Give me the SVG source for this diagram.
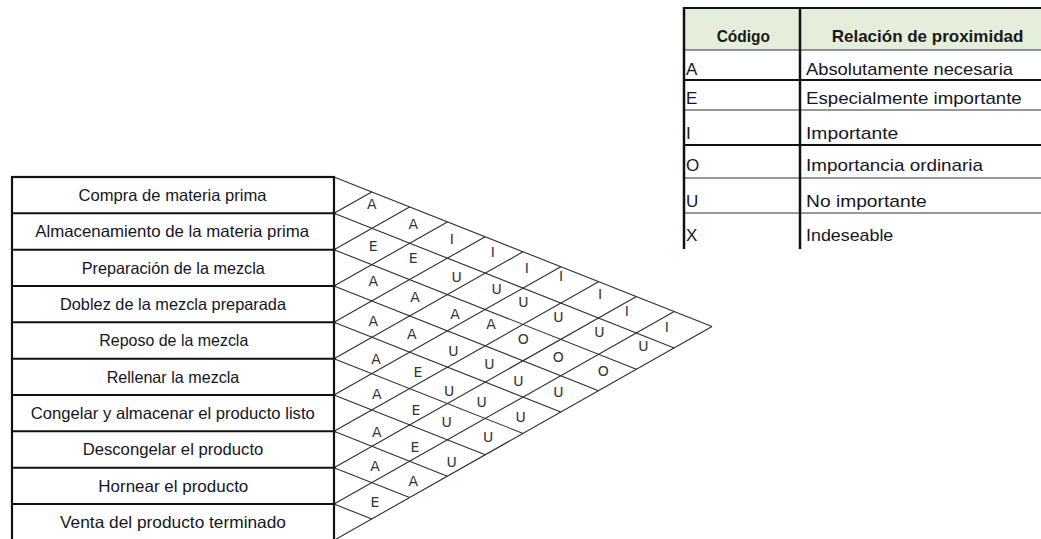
<svg xmlns="http://www.w3.org/2000/svg" width="1041" height="539" viewBox="0 0 1041 539">
<style>
.lbl{font-family:"Liberation Sans",Arial,sans-serif;font-size:16.5px;fill:#15151f;text-anchor:middle}
.sep{stroke:#111;stroke-width:2}
.grid{stroke:#2e2e2e;stroke-width:1.1;fill:none}
.r{font-family:"DejaVu Sans","Liberation Sans",sans-serif;font-size:14px;fill:#333;text-anchor:middle}
.t{font-family:"Liberation Sans",Arial,sans-serif;font-size:17px;fill:#15151f}
.h{font-family:"Liberation Sans",Arial,sans-serif;font-size:17px;font-weight:bold;fill:#1a1a1a}
</style>
<rect width="1041" height="539" fill="#fff"/>

<!-- Activities list -->
<g id="activities">
  <rect x="12" y="177" width="322" height="364" fill="#fff" stroke="#111" stroke-width="2.2"/>
  <line class="sep" x1="12" y1="213.3" x2="336" y2="213.3"/>
  <line class="sep" x1="12" y1="249.7" x2="336" y2="249.7"/>
  <line class="sep" x1="12" y1="286" x2="336" y2="286"/>
  <line class="sep" x1="12" y1="322.3" x2="336" y2="322.3"/>
  <line class="sep" x1="12" y1="358.7" x2="336" y2="358.7"/>
  <line class="sep" x1="12" y1="395" x2="336" y2="395"/>
  <line class="sep" x1="12" y1="431.3" x2="336" y2="431.3"/>
  <line class="sep" x1="12" y1="467.7" x2="336" y2="467.7"/>
  <line class="sep" x1="12" y1="504" x2="336" y2="504"/>
  <g id="act1"><text class="lbl" x="172.5" y="200.8" textLength="188" lengthAdjust="spacingAndGlyphs">Compra de materia prima</text></g>
  <g id="act2"><text class="lbl" x="172.2" y="237.1" textLength="274" lengthAdjust="spacingAndGlyphs">Almacenamiento de la materia prima</text></g>
  <g id="act3"><text class="lbl" x="173.3" y="273.5" textLength="183" lengthAdjust="spacingAndGlyphs">Preparación de la mezcla</text></g>
  <g id="act4"><text class="lbl" x="173" y="309.8" textLength="226" lengthAdjust="spacingAndGlyphs">Doblez de la mezcla preparada</text></g>
  <g id="act5"><text class="lbl" x="173.8" y="346.2" textLength="149" lengthAdjust="spacingAndGlyphs">Reposo de la mezcla</text></g>
  <g id="act6"><text class="lbl" x="173" y="382.5" textLength="132.7" lengthAdjust="spacingAndGlyphs">Rellenar la mezcla</text></g>
  <g id="act7"><text class="lbl" x="172.8" y="418.8" textLength="284" lengthAdjust="spacingAndGlyphs">Congelar y almacenar el producto listo</text></g>
  <g id="act8"><text class="lbl" x="173" y="455.2" textLength="180.7" lengthAdjust="spacingAndGlyphs">Descongelar el producto</text></g>
  <g id="act9"><text class="lbl" x="173.3" y="491.5" textLength="150" lengthAdjust="spacingAndGlyphs">Hornear el producto</text></g>
  <g id="act10"><text class="lbl" x="173" y="527.8" textLength="226" lengthAdjust="spacingAndGlyphs">Venta del producto terminado</text></g>
</g>

<!-- Relationship matrix grid -->
<g id="connectors">
  <path class="grid" d="M334,177 L712,326.5 M334,213.3 L674.2,347.9 M334,249.7 L636.4,369.3 M334,286 L598.6,390.7 M334,322.3 L560.8,412 M334,358.7 L523,433.4 M334,395 L485.2,454.8 M334,431.3 L447.4,476.2 M334,467.7 L409.6,497.6 M334,504 L371.8,519"/>
  <path class="grid" d="M334,213.3 L371.8,192 M334,249.7 L409.6,206.9 M334,286 L447.4,221.9 M334,322.3 L485.2,236.8 M334,358.7 L523,251.8 M334,395 L560.8,266.7 M334,431.3 L598.6,281.7 M334,467.7 L636.4,296.6 M334,504 L674.2,311.6 M334,540.3 L712,326.5"/>
</g>

<!-- Ratings -->
<g id="ratings">
  <text class="r" x="371.7" y="208.5">A</text>
  <text class="r" x="413.3" y="228.5">A</text>
  <text class="r" x="451.7" y="243.5">I</text>
  <text class="r" x="492.7" y="256.5">I</text>
  <text class="r" x="526.7" y="272.5">I</text>
  <text class="r" x="561" y="280.5">I</text>
  <text class="r" x="600" y="298.5">I</text>
  <text class="r" x="626.7" y="315.5">I</text>
  <text class="r" x="666.7" y="331.5">I</text>

  <text class="r" x="373.3" y="250.5">E</text>
  <text class="r" x="413.3" y="262.5">E</text>
  <text class="r" x="456.7" y="281.5">U</text>
  <text class="r" x="496.7" y="293.5">U</text>
  <text class="r" x="523.3" y="306.5">U</text>
  <text class="r" x="558.3" y="321.5">U</text>
  <text class="r" x="599.3" y="336.5">U</text>
  <text class="r" x="643.3" y="350.5">U</text>

  <text class="r" x="373.3" y="285.5">A</text>
  <text class="r" x="415" y="301.5">A</text>
  <text class="r" x="455" y="318.5">A</text>
  <text class="r" x="491" y="328.5">A</text>
  <text class="r" x="523.3" y="343.5">O</text>
  <text class="r" x="558.3" y="361.5">O</text>
  <text class="r" x="603.3" y="375.5">O</text>

  <text class="r" x="373.3" y="325.5">A</text>
  <text class="r" x="411.7" y="338.5">A</text>
  <text class="r" x="453.3" y="355.5">U</text>
  <text class="r" x="489.3" y="368.5">U</text>
  <text class="r" x="518.3" y="385.5">U</text>
  <text class="r" x="558.3" y="396.5">U</text>

  <text class="r" x="376" y="363.5">A</text>
  <text class="r" x="418" y="376.5">E</text>
  <text class="r" x="449" y="395.5">U</text>
  <text class="r" x="481.7" y="406.5">U</text>
  <text class="r" x="520.7" y="421.5">U</text>

  <text class="r" x="376.7" y="398.5">A</text>
  <text class="r" x="416" y="414.5">E</text>
  <text class="r" x="446.7" y="426.5">U</text>
  <text class="r" x="488" y="441.5">U</text>

  <text class="r" x="376.7" y="436.5">A</text>
  <text class="r" x="415" y="451.5">E</text>
  <text class="r" x="451.7" y="466.5">U</text>

  <text class="r" x="375" y="470.5">A</text>
  <text class="r" x="413.3" y="485.5">A</text>

  <text class="r" x="375" y="506.5">E</text>
</g>

<!-- Legend table -->
<g id="legend">
  <rect x="684" y="8" width="357" height="42" fill="#e4eedb"/>
  <line x1="683" y1="8" x2="1041" y2="8" stroke="#111" stroke-width="2"/>
  <line x1="684" y1="50" x2="1041" y2="50" stroke="#333" stroke-width="1"/>
  <line x1="684" y1="80" x2="1041" y2="80" stroke="#111" stroke-width="2"/>
  <line x1="684" y1="110" x2="1041" y2="110" stroke="#333" stroke-width="1"/>
  <line x1="684" y1="145" x2="1041" y2="145" stroke="#111" stroke-width="2"/>
  <line x1="684" y1="178" x2="1041" y2="178" stroke="#333" stroke-width="1"/>
  <line x1="684" y1="213" x2="1041" y2="213" stroke="#333" stroke-width="1"/>
  <line x1="684" y1="7" x2="684" y2="249" stroke="#111" stroke-width="2.5"/>
  <line x1="800" y1="7" x2="800" y2="249" stroke="#111" stroke-width="2.5"/>
  <g id="legend-header">
    <text class="h" x="743.3" y="41.5" text-anchor="middle" textLength="53.3" lengthAdjust="spacingAndGlyphs">Código</text>
    <text class="h" x="831.7" y="41.5" textLength="191.7" lengthAdjust="spacingAndGlyphs">Relación de proximidad</text>
  </g>
  <g id="legend-A"><text class="t" x="686" y="75">A</text><text class="t" x="806" y="75" textLength="207" lengthAdjust="spacingAndGlyphs">Absolutamente necesaria</text></g>
  <g id="legend-E"><text class="t" x="686" y="104">E</text><text class="t" x="806" y="104" textLength="215.7" lengthAdjust="spacingAndGlyphs">Especialmente importante</text></g>
  <g id="legend-I"><text class="t" x="686" y="139.3">I</text><text class="t" x="806" y="139.3" textLength="92.3" lengthAdjust="spacingAndGlyphs">Importante</text></g>
  <g id="legend-O"><text class="t" x="686" y="170.7">O</text><text class="t" x="806" y="170.7" textLength="177" lengthAdjust="spacingAndGlyphs">Importancia ordinaria</text></g>
  <g id="legend-U"><text class="t" x="686" y="206.7">U</text><text class="t" x="806" y="206.7" textLength="120.7" lengthAdjust="spacingAndGlyphs">No importante</text></g>
  <g id="legend-X"><text class="t" x="686" y="240.7">X</text><text class="t" x="806" y="240.7" textLength="87.3" lengthAdjust="spacingAndGlyphs">Indeseable</text></g>
</g>
</svg>
